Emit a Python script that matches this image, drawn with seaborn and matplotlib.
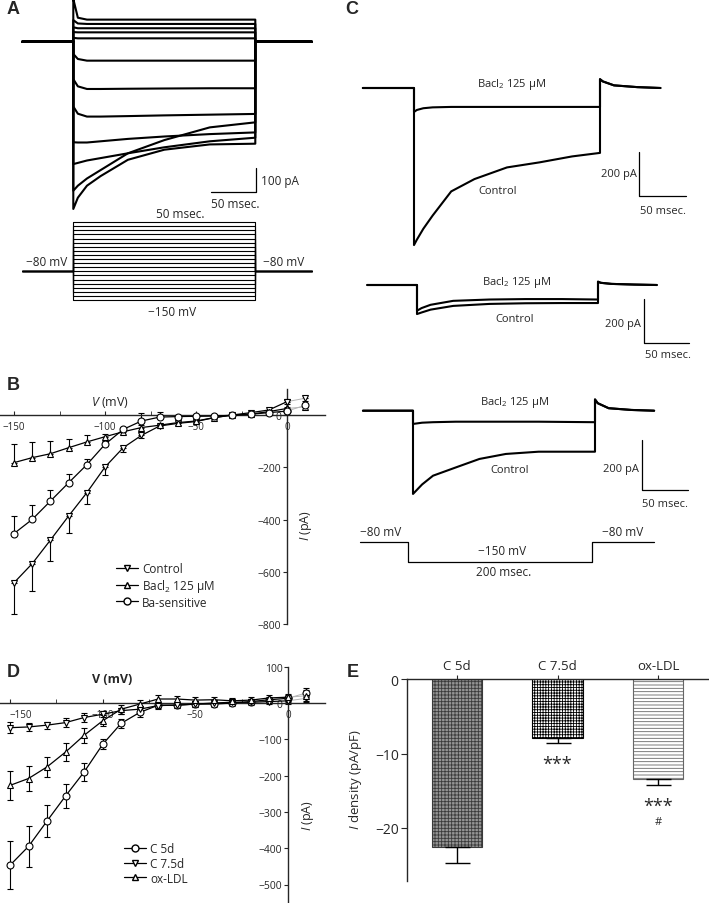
import numpy as np
import pandas as pd
import matplotlib
matplotlib.use('Agg')
import matplotlib.pyplot as plt
from matplotlib.lines import Line2D
import seaborn as sns

sns.set_style('ticks')
plt.rcParams['font.family'] = ['Open Sans', 'DejaVu Sans']
plt.rcParams['mathtext.fontset'] = 'custom'
plt.rcParams['mathtext.rm'] = 'Open Sans'
plt.rcParams['mathtext.it'] = 'Open Sans:italic'
plt.rcParams['mathtext.bf'] = 'Open Sans:bold'
plt.rcParams['hatch.linewidth'] = 0.6
plt.rcParams['axes.linewidth'] = 1.0

W, H = 709, 904

# ---- panel A: current traces (pA) during the 200 ms step, voltage protocol ----
a_times = [0, 5, 15, 30, 60, 100, 150, 200]
a_traces = [
    [178, 100, 92, 92, 92, 92, 92, 92],
    [90, 76, 74, 74, 74, 74, 74, 74],
    [60, 56, 56, 56, 56, 56, 56, 56],
    [40, 39, 39, 39, 39, 39, 39, 39],
    [16, 14, 14, 14, 14, 14, 14, 14],
    [-51, -72, -79, -79, -79, -79, -79, -79],
    [-156, -186, -197, -197, -196, -195, -194, -194],
    [-270, -300, -312, -312, -310, -307, -304, -301],
    [-419, -420, -420, -415, -405, -395, -385, -378],
    [-510, -505, -495, -485, -465, -440, -415, -400],
    [-621, -600, -570, -535, -465, -410, -357, -336],
    [-697, -650, -600, -560, -492, -450, -428, -425],
]
a_pre = [-56, 0]
a_post = [200, 262]
a_steps = [-150, -140, -130, -120, -110, -100, -90, -80, -70, -60,
           -50, -40, -30, -20, -10, 0, 10, 20, 30, 40]
a_prot_t = [-56, 0, 0, 200, 200, 262]
hold_mv = -80

# ---- panel C: control vs BaCl2 traces for three cells ----
c_pre = [-55, 0]
c_post = [200, 203, 215, 240, 265]
c1_times = [0, 3, 10, 20, 40, 65, 100, 135, 170, 200]
c1_control = [-714, -690, -640, -580, -470, -414, -361, -338, -311, -295]
c1_bacl = [-109, -100, -92, -88, -86, -86, -86, -86, -86, -86]
c1_tail = [40, 30, 12, 4, 0]
c2_times = [0, 5, 15, 40, 80, 120, 160, 200]
c2_control = [-132, -125, -112, -95, -86, -83, -82, -82]
c2_bacl = [-117, -105, -90, -72, -66, -64, -64, -66]
c2_tail = [15, 10, 5, 2, 0]
c3_times = [0, 10, 22, 47, 73, 102, 138, 200]
c3_control = [-333, -295, -260, -227, -193, -173, -164, -164]
c3_bacl = [-53, -48, -46, -44, -44, -44, -44, -46]
c3_tail = [45, 30, 10, 3, 0]
c_prot_t = [-53, 0, 0, 200, 200, 267]
c_prot_v = [-80, -80, -150, -150, -80, -80]

# ---- panel B: I-V relation ----
volts = [-150, -140, -130, -120, -110, -100, -90, -80, -70, -60,
         -50, -40, -30, -20, -10, 0, 10]
b_control = [-641, -568, -478, -386, -297, -199, -125, -78, -42, -32, -25, -10, 0, 9, 19, 51, 64]
b_control_err = [120, 105, 80, 66, 44, 32, 15, 8, 6, 5, 5, 4, 4, 4, 5, 8, 12]
b_bacl = [-182, -163, -148, -125, -103, -83, -64, -48, -39, -29, -23, -10, 0, 3, 13, 25, 31]
b_bacl_err = [72, 60, 49, 35, 25, 12, 10, 8, 6, 5, 5, 4, 4, 4, 5, 6, 8]
b_basens = [-453, -399, -329, -259, -190, -112, -55, -23, -8, -6, -5, -4, -1, 3, 9, 15, 37]
b_basens_err = [66, 55, 42, 32, 21, 13, 10, 30, 18, 6, 5, 4, 4, 4, 5, 6, 8]
b_labels = ['Control', 'Bacl$_2$ 125 μM', 'Ba-sensitive']

# ---- panel D: I-V relation, culture conditions ----
d_c5 = [-447, -395, -325, -256, -190, -114, -56, -26, -6, -6, -3, -3, 0, 4, 9, 13, 28]
d_c5_err = [66, 57, 45, 34, 25, 14, 12, 12, 10, 8, 8, 8, 8, 8, 8, 10, 12]
d_c75 = [-68, -66, -61, -54, -40, -31, -21, -17, -7, -6, -3, 0, 2, 2, 4, 6, 13]
d_c75_err = [15, 12, 10, 12, 12, 8, 8, 8, 8, 8, 8, 8, 8, 8, 8, 8, 10]
d_ox = [-227, -208, -176, -135, -89, -49, -17, -3, 11, 11, 8, 9, 6, 8, 14, 16, 20]
d_ox_err = [40, 35, 28, 25, 20, 15, 12, 10, 10, 8, 8, 8, 8, 8, 8, 10, 15]
d_labels = ['C 5d', 'C 7.5d', 'ox-LDL']

# ---- panel E: current density ----
e_cats = ['C 5d', 'C 7.5d', 'ox-LDL']
e_vals = [-22.6, -7.9, -13.4]
e_err = [2.1, 0.7, 0.8]
e_marks = ['', '***', '***']
e_marks2 = ['', '', '#']

fig = plt.figure(figsize=(W / 100, H / 100), dpi=100)


def make_axes(box):
    x0, y0, x1, y1 = box
    return fig.add_axes([x0 / W, 1 - y1 / H, (x1 - x0) / W, (y1 - y0) / H])


def apply_scale(ax, box, x_px, x_val, kx, y_px, y_val, ky):
    # map data onto the pixel grid of the reference
    x0, y0, x1, y1 = box
    ax.set_xlim(x_val + (x0 - x_px) / kx, x_val + (x1 - x_px) / kx)
    ax.set_ylim(y_val - (y1 - y_px) / ky, y_val - (y0 - y_px) / ky)


def ptext(x, y, s, size=8, **kw):
    kw.setdefault('ha', 'center')
    fig.text(x / W, 1 - y / H, s, va='center', fontsize=size, **kw)


def scale_bar(ax, corner, dx, dy):
    cx, cy = corner
    ax.plot([cx, cx, cx + dx], [cy + dy, cy, cy], color='black', lw=0.9)


# ================= A =================
box_a = (20, 0, 320, 216)
ax_a = make_axes(box_a)
for vals in a_traces:
    ax_a.plot(a_pre + a_times + a_post, [0, 0] + vals + [0, 0], color='black', lw=1.5)
scale_bar(ax_a, (201, -627), -50, 100)
apply_scale(ax_a, box_a, 73.3, 0, 0.91, 42.7, 0, 0.24)
ax_a.axis('off')

box_ap = (20, 205, 320, 322)
ax_ap = make_axes(box_ap)
for v in a_steps:
    ax_ap.plot(a_prot_t, [hold_mv, hold_mv, v, v, hold_mv, hold_mv], color='black', lw=0.8)
apply_scale(ax_ap, box_ap, 73.3, 0, 0.91, 301, -150, 0.41)
ax_ap.axis('off')

ptext(13, 9, 'A', size=13, weight='bold', family='Liberation Sans')
ptext(261, 182, '100 pA', size=8.5, ha='left')
ptext(235, 205, '50 msec.', size=8.5)
ptext(180, 215, '50 msec.', size=8.5)
ptext(47, 263, '−80 mV', size=8.5)
ptext(284, 263, '−80 mV', size=8.5)
ptext(172, 313, '−150 mV', size=8.5)

# ================= C =================
c_sets = [
    ((355, 60, 700, 255), c1_times, c1_control, c1_bacl, c1_tail, (414, 0.93, 89, 0.22), (242, -491)),
    ((355, 262, 700, 370), c2_times, c2_control, c2_bacl, c2_tail, (417, 0.905, 286, 0.22), (251, -264)),
    ((355, 385, 700, 515), c3_times, c3_control, c3_bacl, c3_tail, (413, 0.91, 411.7, 0.25), (252, -317)),
]
for box, times, ctrl, ba, tail, (xp, kx, yp, ky), corner in c_sets:
    ax = make_axes(box)
    for vals in (ctrl, ba):
        ax.plot(c_pre + times + c_post, [0, 0] + vals + tail, color='black', lw=1.5)
    scale_bar(ax, corner, 50, 200)  # 50 ms / 200 pA
    apply_scale(ax, box, xp, 0, kx, yp, 0, ky)
    ax.axis('off')

box_cp = (355, 520, 700, 590)
ax_cp = make_axes(box_cp)
ax_cp.plot(c_prot_t, c_prot_v, color='black', lw=0.9)
apply_scale(ax_cp, box_cp, 408.3, 0, 0.92, 543, -80, 0.2857)
ax_cp.axis('off')

ptext(352, 10, 'C', size=13, weight='bold', family='Liberation Sans')
for (bx, by), (cx, cy), (sx, sy), (mx, my) in [
        ((512, 85), (498, 192), (637, 175), (663, 211)),
        ((517, 283), (515, 320), (641, 325), (668, 356)),
        ((515, 403), (510, 471), (639, 470), (665, 505))]:
    ptext(bx, by, 'Bacl$_2$ 125 μM', size=8)
    ptext(cx, cy, 'Control', size=8)
    ptext(sx, sy, '200 pA', size=8, ha='right')
    ptext(mx, my, '50 msec.', size=8)
ptext(381, 532, '−80 mV', size=8.5)
ptext(623, 532, '−80 mV', size=8.5)
ptext(502, 552, '−150 mV', size=8.5)
ptext(504, 573, '200 msec.', size=8.5)


# ================= B and D (I-V) =================
def iv_plot(ax, series, labels, markers, directions):
    rows = []
    for (vals, err), lab, d in zip(series, labels, directions):
        zeros = [0] * len(err)
        lo = err if d in ('down', 'both') else zeros
        hi = err if d in ('up', 'both') else zeros
        ax.errorbar(volts, vals, yerr=[lo, hi], fmt='none', ecolor='black',
                    elinewidth=0.8, capsize=2.5, capthick=0.8, zorder=1)
        for v, i in zip(volts, vals):
            rows.append({'V': v, 'I': i, 'group': lab})
    df = pd.DataFrame(rows)
    mk = dict(zip(labels, markers))
    common = dict(x='V', y='I', style='group', markers=mk, dashes=False,
                  estimator=None, errorbar=None, legend=False, ax=ax,
                  markersize=5, markerfacecolor='white', markeredgecolor='black',
                  markeredgewidth=0.8)
    # the last step to +10 mV is drawn in light grey in the original
    sns.lineplot(data=df[df.V >= 0], color='#b5b5b5', linewidth=0.7, zorder=2, **common)
    sns.lineplot(data=df[df.V <= 0], color='black', linewidth=0.9, zorder=3, **common)
    ax.set_xlabel('')
    ax.set_ylabel('')


def iv_axes(ax, yticks, ybounds, xbounds):
    for s in ['top', 'right']:
        ax.spines[s].set_visible(False)
    ax.spines['left'].set_position(('data', 0))
    ax.spines['bottom'].set_position(('data', 0))
    ax.spines['left'].set_bounds(*ybounds)
    ax.spines['bottom'].set_bounds(*xbounds)
    ax.set_xticks([-150, -100, -50, 0])
    ax.set_xticks([-125, -75, -25], minor=True)
    ax.set_yticks(yticks)
    ax.tick_params(axis='x', which='both', direction='in', length=3, labelsize=7, pad=4)
    ax.tick_params(axis='y', direction='out', length=3, labelsize=7.5, pad=1)
    ax.patch.set_alpha(0)


def iv_legend(ax, labels, markers, x, y):
    handles = [Line2D([], [], color='black', lw=0.9, marker=m, markersize=5,
                      markerfacecolor='white', markeredgecolor='black') for m in markers]
    ax.legend(handles, labels, loc='upper left', bbox_to_anchor=(x / W, 1 - y / H),
              bbox_transform=fig.transFigure, frameon=False, fontsize=8.5,
              handlelength=1.9, handletextpad=0.3, labelspacing=0.15,
              borderpad=0, borderaxespad=0)


box_b = (0, 385, 330, 630)
ax_b = make_axes(box_b)
iv_plot(ax_b, [(b_control, b_control_err), (b_bacl, b_bacl_err), (b_basens, b_basens_err)],
        b_labels, ['v', '^', 'o'], ['down', 'up', 'up'])
apply_scale(ax_b, box_b, 14, -150, 1.82, 416, 0, 0.2617)
iv_axes(ax_b, [0, -200, -400, -600, -800], (-800, 100), (-157.7, 21))
iv_legend(ax_b, b_labels, ['v', '^', 'o'], 116, 563)
ptext(13, 386, 'B', size=13, weight='bold', family='Liberation Sans')
ptext(110, 403, '$V$ (mV)', size=9)
ptext(306, 525, '$I$ (pA)', size=9, rotation=90)

box_d = (0, 660, 330, 904)
ax_d = make_axes(box_d)
iv_plot(ax_d, [(d_c5, d_c5_err), (d_c75, d_c75_err), (d_ox, d_ox_err)],
        d_labels, ['o', 'v', '^'], ['both', 'both', 'both'])
apply_scale(ax_d, box_d, 10, -150, 1.853, 704, 0, 0.363)
iv_axes(ax_d, [100, 0, -100, -200, -300, -400, -500], (-551, 100), (-155.4, 20))
ax_d.get_xticklabels()[0].set_ha('left')
iv_legend(ax_d, d_labels, ['o', 'v', '^'], 124, 843)
ptext(13, 673, 'D', size=13, weight='bold', family='Liberation Sans')
ptext(112, 680, 'V (mV)', size=9, weight='bold')
ptext(308, 815, '$I$ (pA)', size=9, rotation=90)

# ================= E =================
box_e = (407, 680, 709, 882)
ax_e = make_axes(box_e)
sns.barplot(x=e_cats, y=e_vals, hue=e_cats, palette=['#9a9a9a', 'white', 'white'],
            width=0.507, errorbar=None, legend=False, ax=ax_e)
styles = [('#949494', '#3a3a3a', '+++++'), ('white', 'black', '++++++'), ('white', '#666666', '-----')]
for patch, (fc, ec, hatch) in zip(ax_e.patches, styles):
    patch.set_facecolor(fc)
    patch.set_edgecolor(ec)
    patch.set_hatch(hatch)
    patch.set_linewidth(0.8)
ax_e.errorbar(range(len(e_vals)), e_vals, yerr=[e_err, [0] * len(e_err)], fmt='none',
              ecolor='black', elinewidth=1, capsize=9, capthick=1)
apply_scale(ax_e, box_e, 457, 0, 100.5, 680, 0, 7.45)
ax_e.spines['right'].set_visible(False)
ax_e.spines['bottom'].set_visible(False)
ax_e.xaxis.set_ticks_position('top')
ax_e.set_yticks([0, -10, -20])
ax_e.tick_params(axis='x', direction='out', length=3, labelsize=9.5, pad=2)
ax_e.tick_params(axis='y', direction='out', length=4, labelsize=10, pad=2)
ax_e.set_xlabel('')
ax_e.set_ylabel('')
ax_e.patch.set_alpha(0)

for i, (m1, m2) in enumerate(zip(e_marks, e_marks2)):
    x_px = 457 + i * 100.5
    y_px = 680 - (e_vals[i] - e_err[i]) * 7.45
    if m1:
        ptext(x_px, y_px + 21, m1, size=13)
    if m2:
        ptext(x_px, y_px + 37, m2, size=8)
ptext(353, 673, 'E', size=13, weight='bold', family='Liberation Sans')
ptext(355, 780, '$I$ density (pA/pF)', size=9.5, rotation=90)

fig.savefig('out.png', dpi=100)
